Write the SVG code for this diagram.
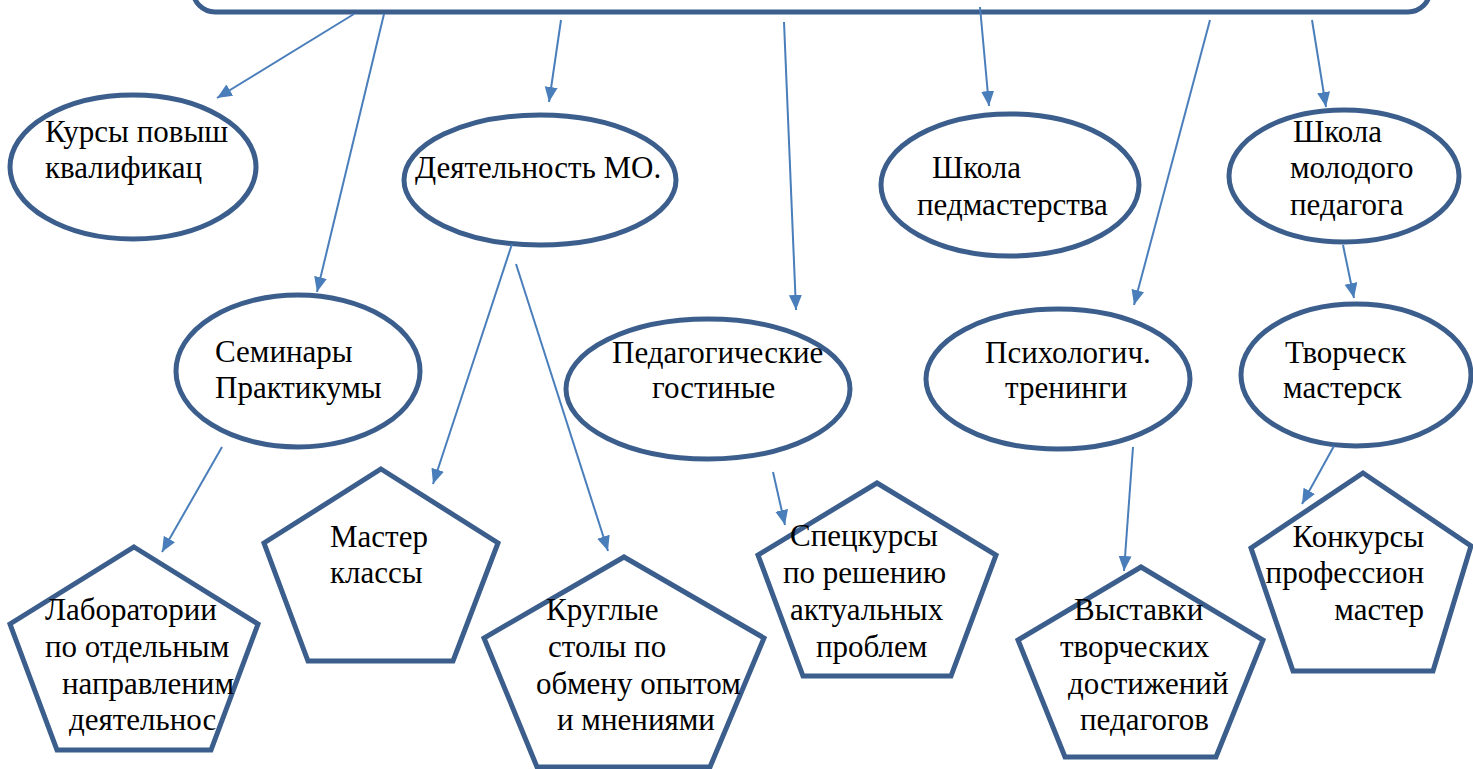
<svg xmlns="http://www.w3.org/2000/svg" width="1473" height="769" viewBox="0 0 1473 769" font-family="'Liberation Serif', 'DejaVu Serif', serif">
<defs>
<style>
.shape{fill:#ffffff;stroke:#3B5E8C;stroke-width:5;stroke-linejoin:miter}
text{font-family:'Liberation Serif', 'DejaVu Serif', serif;font-size:31px;fill:#000000}
.e{text-anchor:end}
.c{stroke:#4A7EBB;stroke-width:2;fill:none;marker-end:url(#ah)}
</style>
<marker id="ah" markerUnits="userSpaceOnUse" markerWidth="16" markerHeight="14" refX="15" refY="6.5" orient="auto">
<path d="M0,0 L15,6.5 L0,13 z" fill="#4A7EBB"/>
</marker>
</defs>
<rect width="1473" height="769" fill="#ffffff"/>

<g id="top">
<rect class="shape" x="193" y="-50" width="1237" height="62" rx="22"/>
</g>

<g id="kursy">
<ellipse class="shape" cx="133" cy="167" rx="123" ry="72"/>
<text x="45" y="142" font-family="Liberation Serif">Курсы повыш</text>
<text x="45" y="178" font-family="Liberation Serif">квалификац</text>
</g>

<g id="mo">
<ellipse class="shape" cx="540" cy="180" rx="136" ry="65"/>
<text x="415" y="178">Деятельность МО.</text>
</g>

<g id="shkola-ped">
<ellipse class="shape" cx="1010" cy="185" rx="129" ry="71"/>
<text x="932" y="178">Школа</text>
<text x="917" y="215">педмастерства</text>
</g>

<g id="shkola-mol">
<ellipse class="shape" cx="1344" cy="176" rx="115" ry="66"/>
<text x="1293" y="142">Школа</text>
<text x="1290" y="178">молодого</text>
<text x="1290" y="215">педагога</text>
</g>

<g id="seminary">
<ellipse class="shape" cx="298" cy="371" rx="122" ry="76"/>
<text x="215" y="362">Семинары</text>
<text x="215" y="398">Практикумы</text>
</g>

<g id="gostinye">
<ellipse class="shape" cx="708" cy="389" rx="142" ry="70"/>
<text x="612" y="363">Педагогические</text>
<text x="652" y="398">гостиные</text>
</g>

<g id="psiholog">
<ellipse class="shape" cx="1058" cy="379" rx="132" ry="70"/>
<text x="985" y="363">Психологич.</text>
<text x="1005" y="398">тренинги</text>
</g>

<g id="tvorch">
<ellipse class="shape" cx="1356" cy="375" rx="115" ry="71"/>
<text x="1285" y="363">Творческ</text>
<text x="1283" y="398">мастерск</text>
</g>

<g id="laboratorii">
<polygon class="shape" points="134,547 258,624 211,750 57,750 10,624"/>
<text x="45" y="620">Лаборатории</text>
<text x="45" y="657">по отдельным</text>
<text x="62" y="694">направленим</text>
<text x="69" y="730">деятельнос</text>
</g>

<g id="master">
<polygon class="shape" points="381,469 498,543 453,661 308,661 264,543"/>
<text x="330" y="547">Мастер</text>
<text x="330" y="583">классы</text>
</g>

<g id="kruglye">
<polygon class="shape" points="624,557 764,638 710,767 537,767 484,638"/>
<text x="546" y="620">Круглые</text>
<text x="548" y="657">столы по</text>
<text x="536" y="694">обмену опытом</text>
<text x="557" y="730">и мнениями</text>
</g>

<g id="speckursy">
<polygon class="shape" points="877,483 996,555 951,676 803,676 758,555"/>
<text x="790" y="546">Спецкурсы</text>
<text x="783" y="583">по решению</text>
<text x="790" y="620">актуальных</text>
<text x="816" y="657">проблем</text>
</g>

<g id="vystavki">
<polygon class="shape" points="1141,567 1263,640 1216,757 1065,757 1018,640"/>
<text x="1074" y="620">Выставки</text>
<text x="1060" y="657">творческих</text>
<text x="1068" y="694">достижений</text>
<text x="1080" y="730">педагогов</text>
</g>

<g id="konkursy">
<polygon class="shape" points="1363,473 1471,546 1433,671 1293,671 1251,548"/>
<text class="e" x="1424" y="547">Конкурсы</text>
<text class="e" x="1424" y="583">профессион</text>
<text class="e" x="1424" y="620">мастер</text>
</g>

<g id="connectors">
<line class="c" x1="354" y1="14" x2="217" y2="98"/>
<line class="c" x1="384" y1="14" x2="317" y2="292"/>
<line class="c" x1="561" y1="20" x2="549" y2="102"/>
<line class="c" x1="784" y1="22" x2="796" y2="310"/>
<line class="c" x1="980" y1="7" x2="989" y2="106"/>
<line class="c" x1="1210" y1="20" x2="1134" y2="305"/>
<line class="c" x1="1312" y1="20" x2="1326" y2="107"/>
<line class="c" x1="1343" y1="245" x2="1354" y2="298"/>
<line class="c" x1="512" y1="244" x2="433" y2="484"/>
<line class="c" x1="516" y1="264" x2="608" y2="551"/>
<line class="c" x1="222" y1="447" x2="162" y2="552"/>
<line class="c" x1="773" y1="472" x2="785" y2="525"/>
<line class="c" x1="1133" y1="447" x2="1124" y2="571"/>
<line class="c" x1="1334" y1="446" x2="1302" y2="504"/>
</g>
</svg>
